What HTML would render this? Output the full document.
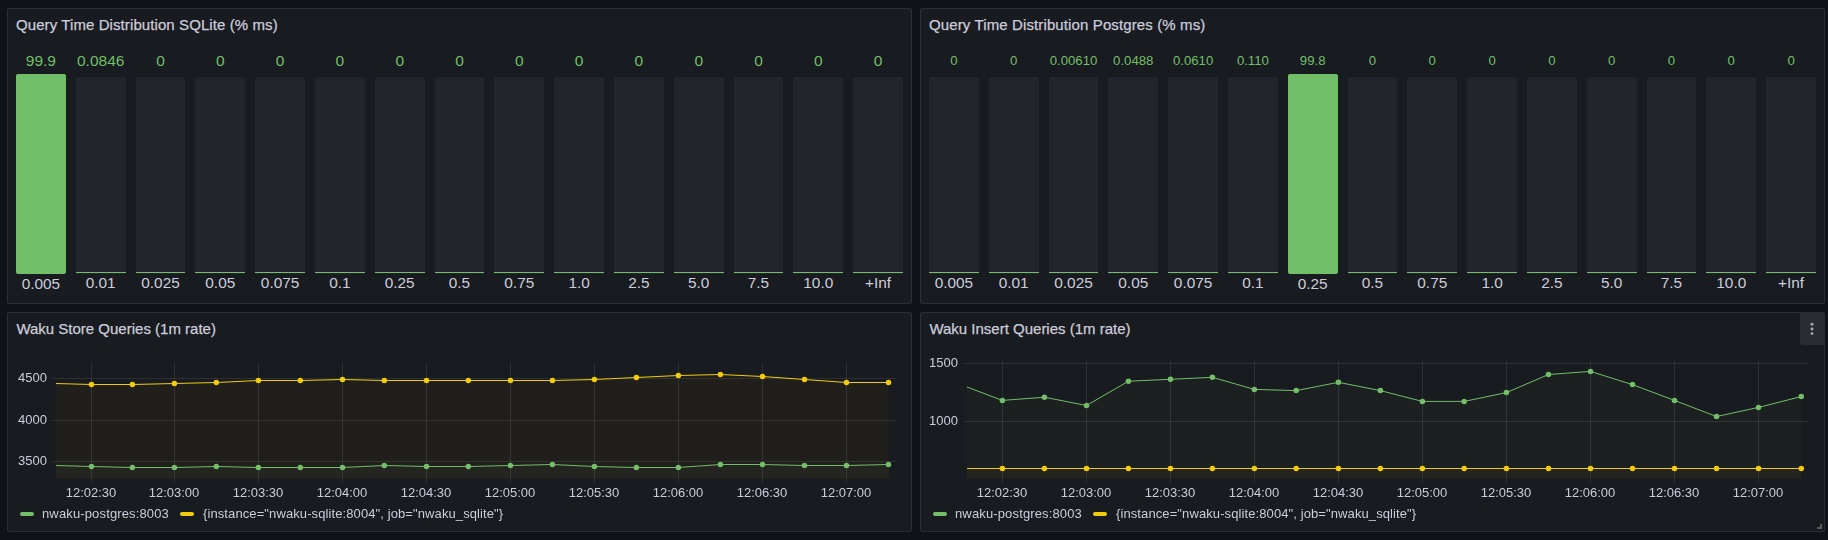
<!DOCTYPE html>
<html><head><meta charset="utf-8"><title>Grafana</title>
<style>
*{box-sizing:border-box;margin:0;padding:0}
html,body{width:1828px;height:540px;overflow:hidden;background:#111217;font-family:"Liberation Sans", sans-serif;color:#ccccdc}
.p{position:absolute;background:#181b1f;border:1px solid #2c2e34;border-radius:2px}
.t{position:absolute;font-size:15px;line-height:18px;white-space:nowrap;color:#ccccdc;-webkit-text-stroke:0.25px #ccccdc}
.a{position:absolute;white-space:nowrap;line-height:16px;will-change:transform}
.v{position:absolute;color:#73bf69;text-align:center;white-space:nowrap}
.l{position:absolute;color:#ccccdc;text-align:center;white-space:nowrap;font-size:15.4px;line-height:18px}
.bb{position:absolute;background:#22252b;border-radius:2px}
.gb{position:absolute;background:#73bf69;border-radius:2px}
.gl{position:absolute;background:#73bf69;height:1px}
svg{position:absolute;left:0;top:0}
</style></head><body>

<div class="p" style="left:7px;top:8px;width:905px;height:296px"></div>
<div class="p" style="left:920px;top:8px;width:905px;height:296px"></div>
<div class="p" style="left:7px;top:312px;width:905px;height:220px"></div>
<div class="p" style="left:920px;top:312px;width:905px;height:220px"></div>
<div class="t" style="left:16px;top:16px;letter-spacing:0.09px">Query Time Distribution SQLite (% ms)</div>
<div class="t" style="left:929px;top:16px;letter-spacing:0.12px">Query Time Distribution Postgres (% ms)</div>
<div class="t" style="left:16.4px;top:319.6px;letter-spacing:0px">Waku Store Queries (1m rate)</div>
<div class="t" style="left:929.4px;top:319.6px;letter-spacing:0px">Waku Insert Queries (1m rate)</div>
<div class="gb" style="left:16.00px;top:74px;width:49.80px;height:200px"></div>
<div class="v" style="left:6.00px;width:69.80px;top:51.5px;font-size:15.5px;line-height:18px">99.9</div>
<div class="l" style="left:6.00px;width:69.80px;top:275px">0.005</div>
<div class="bb" style="left:75.80px;top:77px;width:49.80px;height:197px"></div>
<div class="gl" style="left:75.80px;top:272px;width:49.80px"></div>
<div class="v" style="left:65.80px;width:69.80px;top:51.5px;font-size:15.5px;line-height:18px">0.0846</div>
<div class="l" style="left:65.80px;width:69.80px;top:274px">0.01</div>
<div class="bb" style="left:135.60px;top:77px;width:49.80px;height:197px"></div>
<div class="gl" style="left:135.60px;top:272px;width:49.80px"></div>
<div class="v" style="left:125.60px;width:69.80px;top:51.5px;font-size:15.5px;line-height:18px">0</div>
<div class="l" style="left:125.60px;width:69.80px;top:274px">0.025</div>
<div class="bb" style="left:195.40px;top:77px;width:49.80px;height:197px"></div>
<div class="gl" style="left:195.40px;top:272px;width:49.80px"></div>
<div class="v" style="left:185.40px;width:69.80px;top:51.5px;font-size:15.5px;line-height:18px">0</div>
<div class="l" style="left:185.40px;width:69.80px;top:274px">0.05</div>
<div class="bb" style="left:255.20px;top:77px;width:49.80px;height:197px"></div>
<div class="gl" style="left:255.20px;top:272px;width:49.80px"></div>
<div class="v" style="left:245.20px;width:69.80px;top:51.5px;font-size:15.5px;line-height:18px">0</div>
<div class="l" style="left:245.20px;width:69.80px;top:274px">0.075</div>
<div class="bb" style="left:315.00px;top:77px;width:49.80px;height:197px"></div>
<div class="gl" style="left:315.00px;top:272px;width:49.80px"></div>
<div class="v" style="left:305.00px;width:69.80px;top:51.5px;font-size:15.5px;line-height:18px">0</div>
<div class="l" style="left:305.00px;width:69.80px;top:274px">0.1</div>
<div class="bb" style="left:374.80px;top:77px;width:49.80px;height:197px"></div>
<div class="gl" style="left:374.80px;top:272px;width:49.80px"></div>
<div class="v" style="left:364.80px;width:69.80px;top:51.5px;font-size:15.5px;line-height:18px">0</div>
<div class="l" style="left:364.80px;width:69.80px;top:274px">0.25</div>
<div class="bb" style="left:434.60px;top:77px;width:49.80px;height:197px"></div>
<div class="gl" style="left:434.60px;top:272px;width:49.80px"></div>
<div class="v" style="left:424.60px;width:69.80px;top:51.5px;font-size:15.5px;line-height:18px">0</div>
<div class="l" style="left:424.60px;width:69.80px;top:274px">0.5</div>
<div class="bb" style="left:494.40px;top:77px;width:49.80px;height:197px"></div>
<div class="gl" style="left:494.40px;top:272px;width:49.80px"></div>
<div class="v" style="left:484.40px;width:69.80px;top:51.5px;font-size:15.5px;line-height:18px">0</div>
<div class="l" style="left:484.40px;width:69.80px;top:274px">0.75</div>
<div class="bb" style="left:554.20px;top:77px;width:49.80px;height:197px"></div>
<div class="gl" style="left:554.20px;top:272px;width:49.80px"></div>
<div class="v" style="left:544.20px;width:69.80px;top:51.5px;font-size:15.5px;line-height:18px">0</div>
<div class="l" style="left:544.20px;width:69.80px;top:274px">1.0</div>
<div class="bb" style="left:614.00px;top:77px;width:49.80px;height:197px"></div>
<div class="gl" style="left:614.00px;top:272px;width:49.80px"></div>
<div class="v" style="left:604.00px;width:69.80px;top:51.5px;font-size:15.5px;line-height:18px">0</div>
<div class="l" style="left:604.00px;width:69.80px;top:274px">2.5</div>
<div class="bb" style="left:673.80px;top:77px;width:49.80px;height:197px"></div>
<div class="gl" style="left:673.80px;top:272px;width:49.80px"></div>
<div class="v" style="left:663.80px;width:69.80px;top:51.5px;font-size:15.5px;line-height:18px">0</div>
<div class="l" style="left:663.80px;width:69.80px;top:274px">5.0</div>
<div class="bb" style="left:733.60px;top:77px;width:49.80px;height:197px"></div>
<div class="gl" style="left:733.60px;top:272px;width:49.80px"></div>
<div class="v" style="left:723.60px;width:69.80px;top:51.5px;font-size:15.5px;line-height:18px">0</div>
<div class="l" style="left:723.60px;width:69.80px;top:274px">7.5</div>
<div class="bb" style="left:793.40px;top:77px;width:49.80px;height:197px"></div>
<div class="gl" style="left:793.40px;top:272px;width:49.80px"></div>
<div class="v" style="left:783.40px;width:69.80px;top:51.5px;font-size:15.5px;line-height:18px">0</div>
<div class="l" style="left:783.40px;width:69.80px;top:274px">10.0</div>
<div class="bb" style="left:853.20px;top:77px;width:49.80px;height:197px"></div>
<div class="gl" style="left:853.20px;top:272px;width:49.80px"></div>
<div class="v" style="left:843.20px;width:69.80px;top:51.5px;font-size:15.5px;line-height:18px">0</div>
<div class="l" style="left:843.20px;width:69.80px;top:274px">+Inf</div>
<div class="bb" style="left:929.00px;top:77px;width:49.80px;height:197px"></div>
<div class="gl" style="left:929.00px;top:272px;width:49.80px"></div>
<div class="v" style="left:919.00px;width:69.80px;top:51.7px;font-size:13.2px;line-height:18px">0</div>
<div class="l" style="left:919.00px;width:69.80px;top:274px">0.005</div>
<div class="bb" style="left:988.80px;top:77px;width:49.80px;height:197px"></div>
<div class="gl" style="left:988.80px;top:272px;width:49.80px"></div>
<div class="v" style="left:978.80px;width:69.80px;top:51.7px;font-size:13.2px;line-height:18px">0</div>
<div class="l" style="left:978.80px;width:69.80px;top:274px">0.01</div>
<div class="bb" style="left:1048.60px;top:77px;width:49.80px;height:197px"></div>
<div class="gl" style="left:1048.60px;top:272px;width:49.80px"></div>
<div class="v" style="left:1038.60px;width:69.80px;top:51.7px;font-size:13.2px;line-height:18px">0.00610</div>
<div class="l" style="left:1038.60px;width:69.80px;top:274px">0.025</div>
<div class="bb" style="left:1108.40px;top:77px;width:49.80px;height:197px"></div>
<div class="gl" style="left:1108.40px;top:272px;width:49.80px"></div>
<div class="v" style="left:1098.40px;width:69.80px;top:51.7px;font-size:13.2px;line-height:18px">0.0488</div>
<div class="l" style="left:1098.40px;width:69.80px;top:274px">0.05</div>
<div class="bb" style="left:1168.20px;top:77px;width:49.80px;height:197px"></div>
<div class="gl" style="left:1168.20px;top:272px;width:49.80px"></div>
<div class="v" style="left:1158.20px;width:69.80px;top:51.7px;font-size:13.2px;line-height:18px">0.0610</div>
<div class="l" style="left:1158.20px;width:69.80px;top:274px">0.075</div>
<div class="bb" style="left:1228.00px;top:77px;width:49.80px;height:197px"></div>
<div class="gl" style="left:1228.00px;top:272px;width:49.80px"></div>
<div class="v" style="left:1218.00px;width:69.80px;top:51.7px;font-size:13.2px;line-height:18px">0.110</div>
<div class="l" style="left:1218.00px;width:69.80px;top:274px">0.1</div>
<div class="gb" style="left:1287.80px;top:74px;width:49.80px;height:200px"></div>
<div class="v" style="left:1277.80px;width:69.80px;top:51.7px;font-size:13.2px;line-height:18px">99.8</div>
<div class="l" style="left:1277.80px;width:69.80px;top:275px">0.25</div>
<div class="bb" style="left:1347.60px;top:77px;width:49.80px;height:197px"></div>
<div class="gl" style="left:1347.60px;top:272px;width:49.80px"></div>
<div class="v" style="left:1337.60px;width:69.80px;top:51.7px;font-size:13.2px;line-height:18px">0</div>
<div class="l" style="left:1337.60px;width:69.80px;top:274px">0.5</div>
<div class="bb" style="left:1407.40px;top:77px;width:49.80px;height:197px"></div>
<div class="gl" style="left:1407.40px;top:272px;width:49.80px"></div>
<div class="v" style="left:1397.40px;width:69.80px;top:51.7px;font-size:13.2px;line-height:18px">0</div>
<div class="l" style="left:1397.40px;width:69.80px;top:274px">0.75</div>
<div class="bb" style="left:1467.20px;top:77px;width:49.80px;height:197px"></div>
<div class="gl" style="left:1467.20px;top:272px;width:49.80px"></div>
<div class="v" style="left:1457.20px;width:69.80px;top:51.7px;font-size:13.2px;line-height:18px">0</div>
<div class="l" style="left:1457.20px;width:69.80px;top:274px">1.0</div>
<div class="bb" style="left:1527.00px;top:77px;width:49.80px;height:197px"></div>
<div class="gl" style="left:1527.00px;top:272px;width:49.80px"></div>
<div class="v" style="left:1517.00px;width:69.80px;top:51.7px;font-size:13.2px;line-height:18px">0</div>
<div class="l" style="left:1517.00px;width:69.80px;top:274px">2.5</div>
<div class="bb" style="left:1586.80px;top:77px;width:49.80px;height:197px"></div>
<div class="gl" style="left:1586.80px;top:272px;width:49.80px"></div>
<div class="v" style="left:1576.80px;width:69.80px;top:51.7px;font-size:13.2px;line-height:18px">0</div>
<div class="l" style="left:1576.80px;width:69.80px;top:274px">5.0</div>
<div class="bb" style="left:1646.60px;top:77px;width:49.80px;height:197px"></div>
<div class="gl" style="left:1646.60px;top:272px;width:49.80px"></div>
<div class="v" style="left:1636.60px;width:69.80px;top:51.7px;font-size:13.2px;line-height:18px">0</div>
<div class="l" style="left:1636.60px;width:69.80px;top:274px">7.5</div>
<div class="bb" style="left:1706.40px;top:77px;width:49.80px;height:197px"></div>
<div class="gl" style="left:1706.40px;top:272px;width:49.80px"></div>
<div class="v" style="left:1696.40px;width:69.80px;top:51.7px;font-size:13.2px;line-height:18px">0</div>
<div class="l" style="left:1696.40px;width:69.80px;top:274px">10.0</div>
<div class="bb" style="left:1766.20px;top:77px;width:49.80px;height:197px"></div>
<div class="gl" style="left:1766.20px;top:272px;width:49.80px"></div>
<div class="v" style="left:1756.20px;width:69.80px;top:51.7px;font-size:13.2px;line-height:18px">0</div>
<div class="l" style="left:1756.20px;width:69.80px;top:274px">+Inf</div>
<svg width="1828" height="540" viewBox="0 0 1828 540"><path d="M56.00,383.50 L91.50,384.50 L132.40,384.50 L174.40,383.50 L216.30,382.50 L258.40,380.50 L300.30,380.50 L342.50,379.50 L384.30,380.50 L426.50,380.50 L468.30,380.50 L510.40,380.50 L552.40,380.50 L594.40,379.50 L636.40,377.50 L678.40,375.50 L720.40,374.50 L762.50,376.50 L804.50,379.50 L846.50,382.50 L888.50,382.50 L888.50,478.40 L56.00,478.40 Z" fill="rgb(32,31,28)"/><path d="M56.00,465.50 L91.50,466.50 L132.40,467.50 L174.40,467.50 L216.30,466.50 L258.40,467.50 L300.30,467.50 L342.50,467.50 L384.30,465.50 L426.50,466.50 L468.30,466.50 L510.40,465.50 L552.40,464.50 L594.40,466.50 L636.40,467.50 L678.40,467.50 L720.40,464.50 L762.50,464.50 L804.50,465.50 L846.50,465.50 L888.50,464.50 L888.50,478.40 L56.00,478.40 Z" fill="rgb(36,37,32)"/><rect x="52" y="378" width="844" height="1" fill="rgba(240,250,255,0.09)"/><rect x="52" y="420" width="844" height="1" fill="rgba(240,250,255,0.09)"/><rect x="52" y="461" width="844" height="1" fill="rgba(240,250,255,0.09)"/><rect x="91" y="362" width="1" height="121" fill="rgba(240,250,255,0.09)"/><rect x="174" y="362" width="1" height="121" fill="rgba(240,250,255,0.09)"/><rect x="258" y="362" width="1" height="121" fill="rgba(240,250,255,0.09)"/><rect x="342" y="362" width="1" height="121" fill="rgba(240,250,255,0.09)"/><rect x="426" y="362" width="1" height="121" fill="rgba(240,250,255,0.09)"/><rect x="510" y="362" width="1" height="121" fill="rgba(240,250,255,0.09)"/><rect x="594" y="362" width="1" height="121" fill="rgba(240,250,255,0.09)"/><rect x="678" y="362" width="1" height="121" fill="rgba(240,250,255,0.09)"/><rect x="762" y="362" width="1" height="121" fill="rgba(240,250,255,0.09)"/><rect x="846" y="362" width="1" height="121" fill="rgba(240,250,255,0.09)"/><path d="M56.00,383.50 L91.50,384.50 L132.40,384.50 L174.40,383.50 L216.30,382.50 L258.40,380.50 L300.30,380.50 L342.50,379.50 L384.30,380.50 L426.50,380.50 L468.30,380.50 L510.40,380.50 L552.40,380.50 L594.40,379.50 L636.40,377.50 L678.40,375.50 L720.40,374.50 L762.50,376.50 L804.50,379.50 L846.50,382.50 L888.50,382.50" fill="none" stroke="#f2cc0c" stroke-width="1" stroke-linejoin="round"/><circle cx="91.50" cy="384.50" r="2.75" fill="#f2cc0c"/><circle cx="132.40" cy="384.50" r="2.75" fill="#f2cc0c"/><circle cx="174.40" cy="383.50" r="2.75" fill="#f2cc0c"/><circle cx="216.30" cy="382.50" r="2.75" fill="#f2cc0c"/><circle cx="258.40" cy="380.50" r="2.75" fill="#f2cc0c"/><circle cx="300.30" cy="380.50" r="2.75" fill="#f2cc0c"/><circle cx="342.50" cy="379.50" r="2.75" fill="#f2cc0c"/><circle cx="384.30" cy="380.50" r="2.75" fill="#f2cc0c"/><circle cx="426.50" cy="380.50" r="2.75" fill="#f2cc0c"/><circle cx="468.30" cy="380.50" r="2.75" fill="#f2cc0c"/><circle cx="510.40" cy="380.50" r="2.75" fill="#f2cc0c"/><circle cx="552.40" cy="380.50" r="2.75" fill="#f2cc0c"/><circle cx="594.40" cy="379.50" r="2.75" fill="#f2cc0c"/><circle cx="636.40" cy="377.50" r="2.75" fill="#f2cc0c"/><circle cx="678.40" cy="375.50" r="2.75" fill="#f2cc0c"/><circle cx="720.40" cy="374.50" r="2.75" fill="#f2cc0c"/><circle cx="762.50" cy="376.50" r="2.75" fill="#f2cc0c"/><circle cx="804.50" cy="379.50" r="2.75" fill="#f2cc0c"/><circle cx="846.50" cy="382.50" r="2.75" fill="#f2cc0c"/><circle cx="888.50" cy="382.50" r="2.75" fill="#f2cc0c"/><path d="M56.00,465.50 L91.50,466.50 L132.40,467.50 L174.40,467.50 L216.30,466.50 L258.40,467.50 L300.30,467.50 L342.50,467.50 L384.30,465.50 L426.50,466.50 L468.30,466.50 L510.40,465.50 L552.40,464.50 L594.40,466.50 L636.40,467.50 L678.40,467.50 L720.40,464.50 L762.50,464.50 L804.50,465.50 L846.50,465.50 L888.50,464.50" fill="none" stroke="#73bf69" stroke-width="1" stroke-linejoin="round"/><circle cx="91.50" cy="466.50" r="2.75" fill="#73bf69"/><circle cx="132.40" cy="467.50" r="2.75" fill="#73bf69"/><circle cx="174.40" cy="467.50" r="2.75" fill="#73bf69"/><circle cx="216.30" cy="466.50" r="2.75" fill="#73bf69"/><circle cx="258.40" cy="467.50" r="2.75" fill="#73bf69"/><circle cx="300.30" cy="467.50" r="2.75" fill="#73bf69"/><circle cx="342.50" cy="467.50" r="2.75" fill="#73bf69"/><circle cx="384.30" cy="465.50" r="2.75" fill="#73bf69"/><circle cx="426.50" cy="466.50" r="2.75" fill="#73bf69"/><circle cx="468.30" cy="466.50" r="2.75" fill="#73bf69"/><circle cx="510.40" cy="465.50" r="2.75" fill="#73bf69"/><circle cx="552.40" cy="464.50" r="2.75" fill="#73bf69"/><circle cx="594.40" cy="466.50" r="2.75" fill="#73bf69"/><circle cx="636.40" cy="467.50" r="2.75" fill="#73bf69"/><circle cx="678.40" cy="467.50" r="2.75" fill="#73bf69"/><circle cx="720.40" cy="464.50" r="2.75" fill="#73bf69"/><circle cx="762.50" cy="464.50" r="2.75" fill="#73bf69"/><circle cx="804.50" cy="465.50" r="2.75" fill="#73bf69"/><circle cx="846.50" cy="465.50" r="2.75" fill="#73bf69"/><circle cx="888.50" cy="464.50" r="2.75" fill="#73bf69"/></svg>
<div class="a" style="left:6.5px;width:40px;text-align:right;top:369.9px;font-size:13px">4500</div>
<div class="a" style="left:6.5px;width:40px;text-align:right;top:411.9px;font-size:13px">4000</div>
<div class="a" style="left:6.5px;width:40px;text-align:right;top:452.9px;font-size:13px">3500</div>
<div class="a" style="left:51.00px;width:80px;text-align:center;top:485px;font-size:13px">12:02:30</div>
<div class="a" style="left:134.00px;width:80px;text-align:center;top:485px;font-size:13px">12:03:00</div>
<div class="a" style="left:218.00px;width:80px;text-align:center;top:485px;font-size:13px">12:03:30</div>
<div class="a" style="left:302.00px;width:80px;text-align:center;top:485px;font-size:13px">12:04:00</div>
<div class="a" style="left:386.00px;width:80px;text-align:center;top:485px;font-size:13px">12:04:30</div>
<div class="a" style="left:470.00px;width:80px;text-align:center;top:485px;font-size:13px">12:05:00</div>
<div class="a" style="left:554.00px;width:80px;text-align:center;top:485px;font-size:13px">12:05:30</div>
<div class="a" style="left:638.00px;width:80px;text-align:center;top:485px;font-size:13px">12:06:00</div>
<div class="a" style="left:722.00px;width:80px;text-align:center;top:485px;font-size:13px">12:06:30</div>
<div class="a" style="left:806.00px;width:80px;text-align:center;top:485px;font-size:13px">12:07:00</div>
<div style="position:absolute;left:20px;top:512px;width:14px;height:4px;border-radius:2px;background:#73bf69"></div>
<div class="a" style="left:41.8px;top:506px;font-size:13px;letter-spacing:0.14px">nwaku-postgres:8003</div>
<div style="position:absolute;left:180px;top:512px;width:14px;height:4px;border-radius:2px;background:#f2cc0c"></div>
<div class="a" style="left:202.6px;top:506px;font-size:13px;letter-spacing:0.1px">{instance="nwaku-sqlite:8004", job="nwaku_sqlite"}</div>
<svg width="1828" height="540" viewBox="0 0 1828 540"><path d="M967.00,387.00 L1002.40,400.40 L1044.40,397.20 L1086.50,405.50 L1128.40,381.20 L1170.50,379.30 L1212.40,377.30 L1254.40,389.40 L1296.20,390.60 L1338.40,382.30 L1380.40,390.60 L1422.40,401.40 L1464.20,401.40 L1506.40,392.60 L1548.50,374.50 L1590.50,371.40 L1632.50,384.60 L1674.50,400.40 L1716.50,416.50 L1758.50,407.40 L1801.30,396.50 L1801.30,478.40 L967.00,478.40 Z" fill="rgb(28,32,32)"/><path d="M967.00,468.50 L1002.40,468.50 L1044.40,468.50 L1086.50,468.50 L1128.40,468.50 L1170.50,468.50 L1212.40,468.50 L1254.40,468.50 L1296.20,468.50 L1338.40,468.50 L1380.40,468.50 L1422.40,468.50 L1464.20,468.50 L1506.40,468.50 L1548.50,468.50 L1590.50,468.50 L1632.50,468.50 L1674.50,468.50 L1716.50,468.50 L1758.50,468.50 L1801.30,468.50 L1801.30,478.40 L967.00,478.40 Z" fill="rgb(36,36,31)"/><rect x="963" y="363" width="846" height="1" fill="rgba(240,250,255,0.09)"/><rect x="963" y="421" width="846" height="1" fill="rgba(240,250,255,0.09)"/><rect x="1002" y="361" width="1" height="122" fill="rgba(240,250,255,0.09)"/><rect x="1086" y="361" width="1" height="122" fill="rgba(240,250,255,0.09)"/><rect x="1170" y="361" width="1" height="122" fill="rgba(240,250,255,0.09)"/><rect x="1254" y="361" width="1" height="122" fill="rgba(240,250,255,0.09)"/><rect x="1338" y="361" width="1" height="122" fill="rgba(240,250,255,0.09)"/><rect x="1422" y="361" width="1" height="122" fill="rgba(240,250,255,0.09)"/><rect x="1506" y="361" width="1" height="122" fill="rgba(240,250,255,0.09)"/><rect x="1590" y="361" width="1" height="122" fill="rgba(240,250,255,0.09)"/><rect x="1674" y="361" width="1" height="122" fill="rgba(240,250,255,0.09)"/><rect x="1758" y="361" width="1" height="122" fill="rgba(240,250,255,0.09)"/><path d="M967.00,387.00 L1002.40,400.40 L1044.40,397.20 L1086.50,405.50 L1128.40,381.20 L1170.50,379.30 L1212.40,377.30 L1254.40,389.40 L1296.20,390.60 L1338.40,382.30 L1380.40,390.60 L1422.40,401.40 L1464.20,401.40 L1506.40,392.60 L1548.50,374.50 L1590.50,371.40 L1632.50,384.60 L1674.50,400.40 L1716.50,416.50 L1758.50,407.40 L1801.30,396.50" fill="none" stroke="#73bf69" stroke-width="1" stroke-linejoin="round"/><circle cx="1002.40" cy="400.40" r="2.75" fill="#73bf69"/><circle cx="1044.40" cy="397.20" r="2.75" fill="#73bf69"/><circle cx="1086.50" cy="405.50" r="2.75" fill="#73bf69"/><circle cx="1128.40" cy="381.20" r="2.75" fill="#73bf69"/><circle cx="1170.50" cy="379.30" r="2.75" fill="#73bf69"/><circle cx="1212.40" cy="377.30" r="2.75" fill="#73bf69"/><circle cx="1254.40" cy="389.40" r="2.75" fill="#73bf69"/><circle cx="1296.20" cy="390.60" r="2.75" fill="#73bf69"/><circle cx="1338.40" cy="382.30" r="2.75" fill="#73bf69"/><circle cx="1380.40" cy="390.60" r="2.75" fill="#73bf69"/><circle cx="1422.40" cy="401.40" r="2.75" fill="#73bf69"/><circle cx="1464.20" cy="401.40" r="2.75" fill="#73bf69"/><circle cx="1506.40" cy="392.60" r="2.75" fill="#73bf69"/><circle cx="1548.50" cy="374.50" r="2.75" fill="#73bf69"/><circle cx="1590.50" cy="371.40" r="2.75" fill="#73bf69"/><circle cx="1632.50" cy="384.60" r="2.75" fill="#73bf69"/><circle cx="1674.50" cy="400.40" r="2.75" fill="#73bf69"/><circle cx="1716.50" cy="416.50" r="2.75" fill="#73bf69"/><circle cx="1758.50" cy="407.40" r="2.75" fill="#73bf69"/><circle cx="1801.30" cy="396.50" r="2.75" fill="#73bf69"/><path d="M967.00,468.50 L1002.40,468.50 L1044.40,468.50 L1086.50,468.50 L1128.40,468.50 L1170.50,468.50 L1212.40,468.50 L1254.40,468.50 L1296.20,468.50 L1338.40,468.50 L1380.40,468.50 L1422.40,468.50 L1464.20,468.50 L1506.40,468.50 L1548.50,468.50 L1590.50,468.50 L1632.50,468.50 L1674.50,468.50 L1716.50,468.50 L1758.50,468.50 L1801.30,468.50" fill="none" stroke="#f2cc0c" stroke-width="1" stroke-linejoin="round"/><circle cx="1002.40" cy="468.50" r="2.75" fill="#f2cc0c"/><circle cx="1044.40" cy="468.50" r="2.75" fill="#f2cc0c"/><circle cx="1086.50" cy="468.50" r="2.75" fill="#f2cc0c"/><circle cx="1128.40" cy="468.50" r="2.75" fill="#f2cc0c"/><circle cx="1170.50" cy="468.50" r="2.75" fill="#f2cc0c"/><circle cx="1212.40" cy="468.50" r="2.75" fill="#f2cc0c"/><circle cx="1254.40" cy="468.50" r="2.75" fill="#f2cc0c"/><circle cx="1296.20" cy="468.50" r="2.75" fill="#f2cc0c"/><circle cx="1338.40" cy="468.50" r="2.75" fill="#f2cc0c"/><circle cx="1380.40" cy="468.50" r="2.75" fill="#f2cc0c"/><circle cx="1422.40" cy="468.50" r="2.75" fill="#f2cc0c"/><circle cx="1464.20" cy="468.50" r="2.75" fill="#f2cc0c"/><circle cx="1506.40" cy="468.50" r="2.75" fill="#f2cc0c"/><circle cx="1548.50" cy="468.50" r="2.75" fill="#f2cc0c"/><circle cx="1590.50" cy="468.50" r="2.75" fill="#f2cc0c"/><circle cx="1632.50" cy="468.50" r="2.75" fill="#f2cc0c"/><circle cx="1674.50" cy="468.50" r="2.75" fill="#f2cc0c"/><circle cx="1716.50" cy="468.50" r="2.75" fill="#f2cc0c"/><circle cx="1758.50" cy="468.50" r="2.75" fill="#f2cc0c"/><circle cx="1801.30" cy="468.50" r="2.75" fill="#f2cc0c"/></svg>
<div class="a" style="left:917.5px;width:40px;text-align:right;top:354.9px;font-size:13px">1500</div>
<div class="a" style="left:917.5px;width:40px;text-align:right;top:412.9px;font-size:13px">1000</div>
<div class="a" style="left:962.00px;width:80px;text-align:center;top:485px;font-size:13px">12:02:30</div>
<div class="a" style="left:1046.00px;width:80px;text-align:center;top:485px;font-size:13px">12:03:00</div>
<div class="a" style="left:1130.00px;width:80px;text-align:center;top:485px;font-size:13px">12:03:30</div>
<div class="a" style="left:1214.00px;width:80px;text-align:center;top:485px;font-size:13px">12:04:00</div>
<div class="a" style="left:1298.00px;width:80px;text-align:center;top:485px;font-size:13px">12:04:30</div>
<div class="a" style="left:1382.00px;width:80px;text-align:center;top:485px;font-size:13px">12:05:00</div>
<div class="a" style="left:1466.00px;width:80px;text-align:center;top:485px;font-size:13px">12:05:30</div>
<div class="a" style="left:1550.00px;width:80px;text-align:center;top:485px;font-size:13px">12:06:00</div>
<div class="a" style="left:1634.00px;width:80px;text-align:center;top:485px;font-size:13px">12:06:30</div>
<div class="a" style="left:1718.00px;width:80px;text-align:center;top:485px;font-size:13px">12:07:00</div>
<div style="position:absolute;left:933px;top:512px;width:14px;height:4px;border-radius:2px;background:#73bf69"></div>
<div class="a" style="left:954.8px;top:506px;font-size:13px;letter-spacing:0.14px">nwaku-postgres:8003</div>
<div style="position:absolute;left:1093px;top:512px;width:14px;height:4px;border-radius:2px;background:#f2cc0c"></div>
<div class="a" style="left:1115.6px;top:506px;font-size:13px;letter-spacing:0.1px">{instance="nwaku-sqlite:8004", job="nwaku_sqlite"}</div>
<div style="position:absolute;left:1800px;top:313px;width:24px;height:32px;background:#2a2c32;border-radius:0 2px 0 3px"></div>
<svg width="1828" height="540"><circle cx="1812" cy="324.3" r="1.45" fill="#a8a8b6"/><circle cx="1812" cy="329" r="1.45" fill="#a8a8b6"/><circle cx="1812" cy="333.6" r="1.45" fill="#a8a8b6"/></svg>
<svg width="1828" height="540" style="position:absolute;left:0;top:0"><rect x="1820" y="524" width="2" height="5" fill="#5a5a5c"/><rect x="1817" y="527" width="5" height="2" fill="#5a5a5c"/></svg>
</body></html>
